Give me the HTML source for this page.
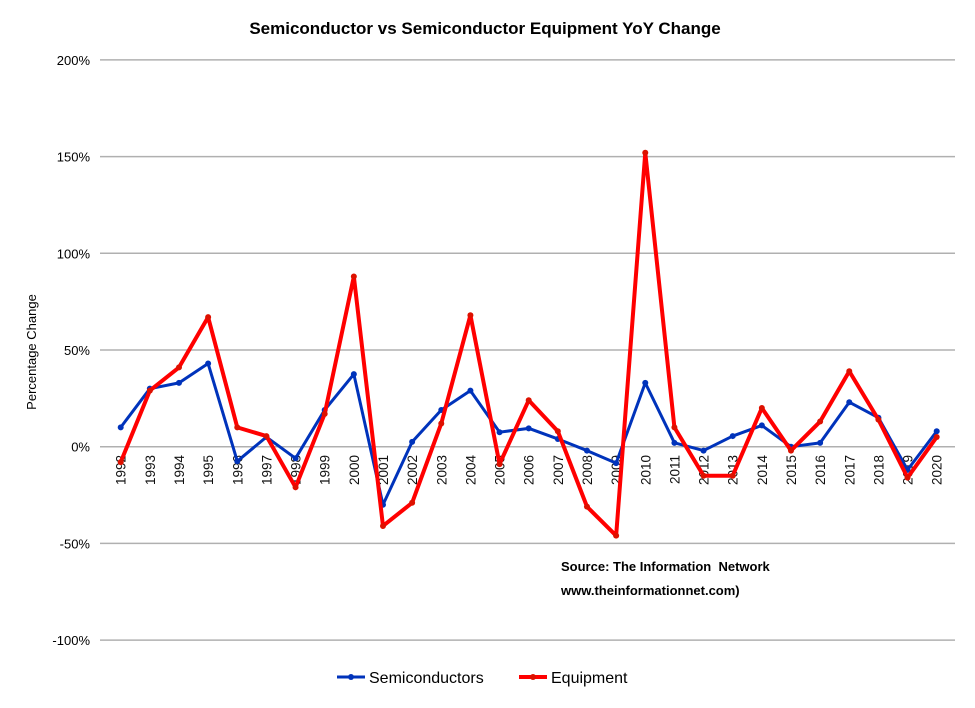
<!DOCTYPE html>
<html><head><meta charset="utf-8"><style>
body{margin:0;background:#fff;}
svg{display:block;font-family:"Liberation Sans",Arial,sans-serif;}
</style></head><body>
<svg id="chart" width="975" height="708">
<text x="485" y="34" text-anchor="middle" font-size="17" font-weight="bold">Semiconductor vs Semiconductor Equipment YoY Change</text>
<text transform="translate(36,352) rotate(-90)" text-anchor="middle" font-size="13">Percentage Change</text>
<g id="grid"></g><g id="yticks"></g><g id="xticks"></g><g id="series"></g>
<text x="561" y="571" font-size="13" font-weight="bold">Source: The Information&#160; Network</text>
<text x="561" y="595" font-size="13" font-weight="bold">www.theinformationnet.com)</text>
<g>
<g>
<line x1="337" y1="677" x2="365" y2="677" stroke="#0033bb" stroke-width="3"/><circle cx="351" cy="677" r="3" fill="#0033bb"/>
<text x="369" y="683" font-size="16">Semiconductors</text></g>
<g>
<line x1="519" y1="677" x2="547" y2="677" stroke="#ff0000" stroke-width="4"/><circle cx="533" cy="677" r="3" fill="#dd1100"/>
<text x="551" y="683" font-size="16">Equipment</text></g>
</g>
</svg>
<script>
const years=[1992,1993,1994,1995,1996,1997,1998,1999,2000,2001,2002,2003,2004,2005,2006,2007,2008,2009,2010,2011,2012,2013,2014,2015,2016,2017,2018,2019,2020];
const semis=[10,30,33,43,-7.5,5,-6,19,37.5,-30,2.5,19,29,7.5,9.5,4,-2,-8.5,33,2,-2,5.5,11,0,2,23,15,-12,8];
const equip=[-8,29,41,67,10,5.5,-21,17,88,-41,-29,12,68,-9,24,8,-31,-46,152,10,-15,-15,20,-2,13,39,14,-16,5];
const yTicks=[-100,-50,0,50,100,150,200];
const NS='http://www.w3.org/2000/svg';
const y=v=>446.7-v*96.7/50;
const x=i=>120.7+i*(816/28);
function mk(tag,attrs,parent){const e=document.createElementNS(NS,tag);for(const k in attrs)e.setAttribute(k,attrs[k]);parent.appendChild(e);return e;}
const grid=document.getElementById('grid'),yt=document.getElementById('yticks'),xt=document.getElementById('xticks'),se=document.getElementById('series');
yTicks.forEach(v=>{
  const l=mk('line',{x1:100,x2:955,y1:y(v),y2:y(v),stroke:'#b0b0b0','stroke-width':1.5},grid);
  
  
  const t=mk('text',{x:90,y:y(v)+5,'text-anchor':'end','font-size':13},yt);
  t.textContent=v+'%';
  
  
});
years.forEach((yr,i)=>{
  const t=mk('text',{transform:`translate(${x(i)+5},455) rotate(-90)`,'text-anchor':'end','font-size':13.5,fill:'#111'},xt);
  t.textContent=yr;
  
  
});
function draw(vals,color,w,dot,name){
  const p=mk('polyline',{points:vals.map((v,i)=>x(i)+','+y(v)).join(' '),fill:'none',stroke:color,'stroke-width':w,'stroke-linejoin':'round'},se);
  
  
  vals.forEach((v,i)=>{
    const c=mk('circle',{cx:x(i),cy:y(v),r:3,fill:dot},se);
    
    
  });
}
draw(semis,'#0033bb',3,'#0033bb','semiconductors');
draw(equip,'#ff0000',4,'#dd1100','equipment');
</script>
</body></html>
